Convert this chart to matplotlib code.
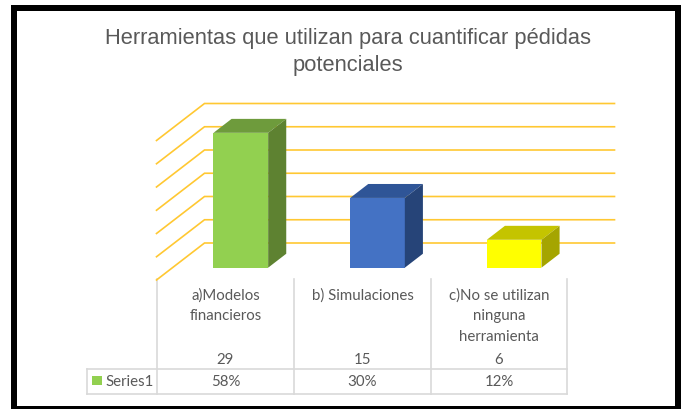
import matplotlib
matplotlib.use("Agg")
import matplotlib.pyplot as plt
from matplotlib.patches import Rectangle

title = "Herramientas que utilizan para cuantificar pédidas\npotenciales"
categories = ["a)Modelos\nfinancieros", "b) Simulaciones", "c)No se utilizan\nninguna\nherramienta"]
counts = [29, 15, 6]
percents = ["58%", "30%", "12%"]
series_name = "Series1"
yticks = [0, 5, 10, 15, 20, 25, 30]
front_colors = ["#92D050", "#4472C4", "#FFFF00"]
top_colors = ["#6E9B3C", "#2F5597", "#C4C400"]
side_colors = ["#5E8231", "#264478", "#A5A500"]
grid_color = "#FFC832"
text_color = "#595959"
table_color = "#D9D9D9"

W, H = 681, 410
fig = plt.figure(figsize=(W / 100, H / 100), dpi=100, facecolor="white")

# page layer in pixel coordinates
bg = fig.add_axes([0, 0, 1, 1])
bg.set_xlim(0, W); bg.set_ylim(H, 0); bg.axis("off")
bg.add_patch(Rectangle((11, 6), 670, 404, fc="black", ec="none"))
bg.add_patch(Rectangle((17, 12), 658, 395, fc="white", ec="none"))

# chart axes: front plane of the oblique 3D box
XL, XR, YB, YT = 156.5, 566.5, 281, 141.5
ax = fig.add_axes([XL / W, 1 - YB / H, (XR - XL) / W, (YB - YT) / H])
ax.set_xlim(0, 3); ax.set_ylim(0, 30); ax.axis("off")
px_x = 3 / (XR - XL)
px_y = 30 / (YB - YT)
DX, DY = 48 * px_x, 37 * px_y   # full depth in data units

for v in yticks:
    ax.plot([0, DX, 3 + DX], [v, v + DY, v + DY], color=grid_color, lw=1.2,
            clip_on=False, zorder=1, solid_joinstyle="miter")

W_BAR = 0.4
D0, D1 = 0.333, 0.71
for i, v in enumerate(counts):
    x0 = i + 0.5 - W_BAR / 2
    x1 = x0 + W_BAR
    ax.bar(x0 + W_BAR / 2 + D0 * DX, v, W_BAR, bottom=D0 * DY,
           color=front_colors[i], zorder=3, clip_on=False)
    def p(x, val, d):
        return x + d * DX, val + d * DY
    top = [p(x0, v, D0), p(x1, v, D0), p(x1, v, D1), p(x0, v, D1)]
    side = [p(x1, 0, D0), p(x1, 0, D1), p(x1, v, D1), p(x1, v, D0)]
    ax.fill(*zip(*top), color=top_colors[i], lw=0, zorder=3, clip_on=False)
    ax.fill(*zip(*side), color=side_colors[i], lw=0, zorder=3, clip_on=False)

# title
bg.text(348, 52, title, ha="center", va="center", fontsize=15.75, family="Liberation Sans",
        color=text_color, linespacing=1.37)

# data table
cols = [157, 294, 431, 567]
for x in cols:
    bg.plot([x, x], [280, 395], color=table_color, lw=1.2)
for y in (370, 395):
    bg.plot([87, 567], [y, y], color=table_color, lw=1.2)
bg.plot([87, 87], [370, 395], color=table_color, lw=1.2)
bg.add_patch(Rectangle((92, 377), 10, 9, fc=front_colors[0], ec="none"))
font = dict(family="Lato", fontsize=10.85, color=text_color)
bg.text(105, 382, series_name, ha="left", va="center", **font)
for i, cat in enumerate(categories):
    cx = (cols[i] + cols[i + 1]) / 2
    bg.text(cx, 288, cat, ha="center", va="top", linespacing=1.6, **font)
    bg.text(cx, 360, str(counts[i]), ha="center", va="center", **font)
    bg.text(cx, 382, percents[i], ha="center", va="center", **font)

fig.savefig("out.png", dpi=100)
